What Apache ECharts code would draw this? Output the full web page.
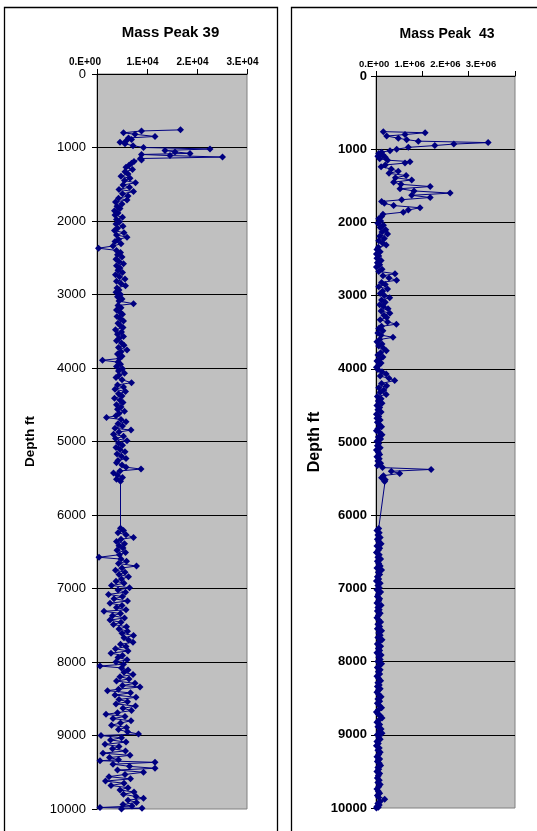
<!DOCTYPE html>
<html><head><meta charset="utf-8">
<script src="https://cdn.jsdelivr.net/npm/echarts@6/dist/echarts.min.js"></script>
<style>html,body{margin:0;padding:0;background:#fff}#c{width:537px;height:831px}</style>
</head><body><div id="c"></div>
<script>
// ---- data (depth in ft, mass peak intensities) ----
const depths = [
 760,775,800,820,850,870,890,910,930,950,
 975,1000,1020,1040,1060,1080,1095,1110,1130,1150,
 1170,1190,1215,1240,1270,1300,1330,1360,1390,1420,
 1450,1480,1510,1540,1570,1600,1630,1660,1690,1715,
 1740,1770,1800,1830,1860,1890,1920,1950,1980,2010,
 2040,2070,2100,2130,2160,2190,2220,2250,2280,2310,
 2340,2370,2400,2430,2460,2490,2520,2550,2580,2610,
 2640,2670,2700,2730,2760,2790,2820,2850,2880,2910,
 2940,2970,3000,3030,3060,3090,3125,3150,3180,3210,
 3240,3270,3300,3330,3360,3390,3420,3450,3480,3510,
 3540,3570,3600,3630,3660,3690,3720,3755,3780,3810,
 3840,3870,3895,3920,3950,3980,4010,4040,4070,4100,
 4130,4160,4200,4230,4260,4290,4320,4350,4380,4410,
 4440,4470,4500,4530,4560,4590,4620,4650,4675,4700,
 4730,4760,4790,4820,4845,4870,4900,4930,4960,4990,
 5020,5050,5080,5110,5140,5170,5200,5230,5260,5290,
 5320,5350,5375,5400,5430,5460,5490,5515,5540,6180,
 6210,6240,6270,6305,6330,6360,6390,6420,6450,6480,
 6510,6540,6575,6600,6630,6660,6695,6720,6750,6780,
 6810,6840,6870,6900,6930,6960,6990,7020,7050,7080,
 7110,7140,7170,7200,7230,7260,7290,7310,7340,7370,
 7400,7430,7460,7490,7520,7550,7580,7610,7640,7670,
 7700,7730,7760,7790,7820,7850,7880,7910,7940,7970,
 8000,8030,8055,8080,8110,8140,8170,8200,8230,8260,
 8290,8320,8340,8370,8390,8420,8450,8480,8510,8540,
 8570,8600,8630,8660,8690,8712,8740,8770,8800,8830,
 8860,8890,8920,8950,8980,9000,9030,9060,9090,9120,
 9150,9180,9210,9240,9270,9300,9330,9343,9365,9390,
 9420,9446,9470,9500,9530,9560,9590,9620,9650,9680,
 9710,9740,9770,9800,9830,9855,9880,9910,9940,9960,
 9980,9990,10000
];
const peak39 = [
 16700,8900,5300,7600,11600,6300,6900,5800,4600,5600,
 7200,9300,22600,13600,15600,18600,8900,14600,25100,8700,
 8900,7400,6900,6400,5800,7100,5600,6200,4800,6600,
 5500,7700,5200,6500,4400,7300,5100,6200,4300,6000,
 3700,5000,4000,4600,3500,4200,3600,5100,3900,4500,
 3800,5200,4100,3500,5400,3900,6000,4300,3600,4800,
 3200,300,3900,4700,4100,5000,3800,4400,5300,3900,
 4600,4200,5100,3700,4500,5600,3900,4800,5700,4000,
 4400,3800,4700,4100,5000,4400,7300,4200,4800,3900,
 4600,5100,4000,4700,5300,4200,4600,5200,3700,4900,
 4100,5300,4400,3900,4900,5400,4300,6000,4800,4100,
 5000,4500,1100,4200,4700,3900,5100,4300,5500,4400,
 3800,5000,6900,4100,5300,3600,5700,4300,5000,3500,
 4600,5200,3900,4800,4100,5500,4400,3800,1900,4800,
 5800,4200,5100,3600,6800,4400,3300,5300,3700,6000,
 4300,5100,3800,4600,5600,4000,4900,5800,4200,3900,
 5000,5800,8800,4600,3300,4100,5100,3900,4700,4700,
 5300,4200,5800,7300,4800,3900,5500,4400,5200,4000,
 5700,4500,400,4800,5900,4300,7900,5000,3700,5600,
 4400,6300,4900,3800,5400,2900,6500,4200,5700,2300,
 5100,3400,6100,2600,5000,3900,5800,1400,4700,3100,
 5500,2600,4800,3300,5900,4400,6100,5000,7300,5400,
 6300,7200,4700,5800,3700,6200,2800,5100,4200,6000,
 3800,5300,600,4900,6200,5400,7200,4600,6400,3900,
 7600,5100,8600,4300,2100,6700,3600,7800,4400,6100,
 3800,7700,5200,6900,4100,1800,5600,3200,6800,4700,
 2900,5900,4300,6100,8300,800,4900,2700,5800,1600,
 4400,3100,5700,1200,6600,2500,4300,600,11600,3200,
 6500,11600,4100,9300,5600,2400,6700,1700,5400,2800,
 6200,4600,7400,5300,7800,9300,6200,7900,5200,7000,
 600,9000,4900
];
const peak43 = [
 158000,1060000,626000,230000,482000,662000,913000,2420000,1680000,1270000,
 698000,446000,302000,122000,60000,150000,40000,200000,80000,250000,
 734000,626000,200000,110000,330000,480000,280000,650000,420000,770000,
 380000,540000,1170000,518000,820000,1600000,770000,1170000,554000,122000,
 180000,380000,950000,698000,590000,150000,120000,60000,100000,40000,
 160000,90000,210000,130000,250000,80000,180000,60000,140000,220000,
 50000,20000,90000,10000,60000,20000,110000,30000,80000,10000,
 130000,60000,410000,150000,280000,445000,120000,200000,60000,250000,
 140000,90000,180000,295000,120000,200000,80000,160000,260000,110000,
 300000,170000,230000,90000,250000,440000,120000,60000,150000,40000,
 110000,367000,80000,20000,130000,60000,160000,223000,100000,40000,
 150000,80000,20000,110000,60000,10000,40000,130000,220000,90000,
 280000,403000,120000,230000,60000,170000,90000,220000,30000,110000,
 50000,130000,20000,80000,40000,110000,10000,60000,20000,90000,
 30000,70000,120000,40000,10000,80000,130000,50000,100000,20000,
 60000,30000,90000,10000,50000,80000,20000,70000,40000,100000,
 30000,140000,1190000,330000,511000,160000,120000,200000,186000,58000,
 20000,70000,40000,90000,30000,60000,110000,20000,80000,50000,
 10000,70000,40000,100000,30000,60000,90000,20000,120000,50000,
 80000,30000,60000,10000,90000,40000,70000,20000,100000,50000,
 30000,80000,60000,20000,110000,40000,70000,30000,90000,50000,
 20000,60000,100000,40000,80000,30000,120000,60000,90000,40000,
 130000,70000,30000,100000,50000,80000,20000,110000,60000,90000,
 40000,120000,70000,30000,90000,50000,80000,20000,60000,100000,
 40000,70000,30000,90000,50000,20000,60000,110000,40000,80000,
 30000,70000,120000,50000,10000,40000,90000,130000,60000,20000,
 80000,40000,110000,70000,130000,30000,60000,90000,20000,50000,
 10000,70000,40000,90000,60000,20000,80000,50000,30000,70000,
 100000,40000,60000,20000,80000,50000,30000,70000,40000,90000,
 60000,20000,50000,80000,30000,60000,187000,90000,40000,70000,
 20000,50000,10000
];
const xTicks39 = ['0.E+00','1.E+04','2.E+04','3.E+04'];
const xTicks43 = ['0.E+00','1.E+06','2.E+06','3.E+06'];
const titles = ['Mass Peak 39', 'Mass Peak  43'];
const yName = 'Depth ft';

const FONT = '"Liberation Sans", Arial, sans-serif';
const NAVY = '#000080';

const chart = echarts.init(document.getElementById('c'), null, {renderer: 'canvas'});

function fmt(labels, step) {
  return function (v) {
    const i = Math.round(v / step);
    const t = labels[i] == null ? '' : labels[i];
    return i === 0 ? '{f|' + t + '}' : t;
  };
}

function mainX(gridIndex, max, step) {
  return {
    type: 'value', gridIndex: gridIndex, position: 'top', min: 0, max: max, interval: step,
    axisLine: {show: true, onZero: false, lineStyle: {color: '#000', width: 1}},
    axisTick: {show: true, length: 5, lineStyle: {color: '#000'}},
    axisLabel: {show: false},
    splitLine: {show: false}
  };
}
function labelX(gridIndex, max, step, labels, size, shift) {
  return {
    type: 'value', gridIndex: gridIndex, position: 'top', min: 0, max: max, interval: step,
    axisLine: {show: false}, axisTick: {show: false}, splitLine: {show: false},
    axisLabel: {
      show: true, margin: 7, color: '#000', fontFamily: FONT, fontWeight: 'bold', fontSize: size,
      formatter: fmt(labels, step),
      rich: {f: {fontFamily: FONT, fontWeight: 'bold', fontSize: size, color: '#000', padding: [0, shift, 0, 0]}}
    }
  };
}
function mainY(gridIndex, bold, gap, nameSize, margin) {
  return {
    type: 'value', gridIndex: gridIndex, inverse: true, min: 0, max: 10000, interval: 1000,
    name: yName, nameLocation: 'middle', nameRotate: 90, nameGap: gap,
    nameTextStyle: {fontFamily: FONT, fontWeight: 'bold', fontSize: nameSize, color: '#000'},
    axisLine: {show: true, onZero: false, lineStyle: {color: '#000', width: 1}},
    axisTick: {show: true, length: 5, lineStyle: {color: '#000'}},
    axisLabel: {
      color: '#000', fontFamily: FONT, fontSize: 13, fontWeight: bold ? 'bold' : 'normal', margin: margin,
      formatter: function (v) { return String(v); }
    },
    splitLine: {show: true, showMinLine: false, showMaxLine: false, lineStyle: {color: '#000', width: 1}}
  };
}
function hiddenY(gridIndex) {
  return {type: 'value', gridIndex: gridIndex, show: false, min: 0, max: 1};
}

const option = {
  animation: false,
  backgroundColor: '#fff',
  grid: [
    {left: 97, top: 74, width: 150, height: 735, show: true, backgroundColor: '#C0C0C0', borderColor: '#808080', borderWidth: 1},
    {left: 376, top: 76, width: 139, height: 732, show: true, backgroundColor: '#C0C0C0', borderColor: '#808080', borderWidth: 1},
    {left: 92.5, top: 74, width: 150, height: 1, show: false},
    {left: 374.2, top: 76, width: 106.8, height: 1, show: false}
  ],
  xAxis: [
    mainX(0, 30000, 10000),
    mainX(1, 3000000, 1000000),
    labelX(2, 30000, 10000, xTicks39, 10, 15),
    labelX(3, 3000000, 1000000, xTicks43, 9.5, 0)
  ],
  yAxis: [
    mainY(0, false, 60, 13.5, 11),
    mainY(1, true, 53, 16, 9),
    hiddenY(2),
    hiddenY(3)
  ],
  graphic: [
    {type: 'rect', shape: {x: 4.5, y: 7.5, width: 273, height: 840}, style: {fill: 'none', stroke: '#000', lineWidth: 1.3}, silent: true},
    {type: 'rect', shape: {x: 291.5, y: 7.5, width: 260, height: 840}, style: {fill: 'none', stroke: '#000', lineWidth: 1.3}, silent: true},
    {type: 'text', x: 170.5, y: 33, style: {text: titles[0], font: 'bold 15px ' + FONT, fill: '#000', textAlign: 'center', textVerticalAlign: 'middle'}},
    {type: 'text', x: 447, y: 34.5, style: {text: titles[1], font: 'bold 14px ' + FONT, fill: '#000', textAlign: 'center', textVerticalAlign: 'middle'}}
  ],
  series: [
    {
      type: 'line', xAxisIndex: 0, yAxisIndex: 0, clip: true,
      data: depths.map((d, i) => [peak39[i], d]),
      symbol: 'diamond', symbolSize: 7, showSymbol: true,
      lineStyle: {color: NAVY, width: 1}, itemStyle: {color: NAVY}
    },
    {
      type: 'line', xAxisIndex: 1, yAxisIndex: 1, clip: true,
      data: depths.map((d, i) => [peak43[i], d]),
      symbol: 'diamond', symbolSize: 7, showSymbol: true,
      lineStyle: {color: NAVY, width: 1}, itemStyle: {color: NAVY}
    }
  ]
};
chart.setOption(option);
</script>
</body></html>
